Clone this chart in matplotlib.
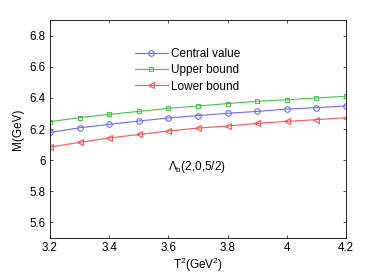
import matplotlib
matplotlib.use('Agg')
from matplotlib import pyplot as plt

# Borel parameter T^2 (GeV^2)
t2 = [3.2, 3.3, 3.4, 3.5, 3.6, 3.7, 3.8, 3.9, 4.0, 4.1, 4.2]

# Mass values M (GeV)
central = [6.178, 6.208, 6.230, 6.251, 6.271, 6.286, 6.301, 6.313, 6.328, 6.337, 6.348]
upper = [6.247, 6.273, 6.294, 6.313, 6.333, 6.348, 6.363, 6.378, 6.388, 6.399, 6.410]
lower = [6.084, 6.114, 6.142, 6.165, 6.187, 6.206, 6.219, 6.236, 6.249, 6.260, 6.273]

xticks = [3.2, 3.4, 3.6, 3.8, 4.0, 4.2]
xticklabels = ['3.2', '3.4', '3.6', '3.8', '4', '4.2']
yticks = [5.6, 5.8, 6.0, 6.2, 6.4, 6.6, 6.8]
yticklabels = ['5.6', '5.8', '6', '6.2', '6.4', '6.6', '6.8']

plt.rcParams['font.family'] = ['Liberation Sans', 'DejaVu Sans']
plt.rcParams['mathtext.fontset'] = 'custom'
plt.rcParams['mathtext.rm'] = 'Liberation Sans'
plt.rcParams['mathtext.it'] = 'Liberation Sans'

fig = plt.figure(figsize=(3.82, 2.73), dpi=100)
ax = fig.add_axes([50 / 382, 1 - 238 / 273, 296 / 382, 218 / 273])

ax.plot(t2, central, color='#6b6bff', lw=0.8, marker='o', ms=4.0, mfc='none',
        mew=0.8, label='Central value')
ax.plot(t2, upper, color='#4cbf4c', lw=0.8, marker='s', ms=3.4, mfc='none',
        mew=0.8, label='Upper bound')
ax.plot(t2, lower, color='#ff5555', lw=0.8, marker='<', ms=4.0, mfc='none',
        mew=0.8, label='Lower bound')

ax.set_xlim(3.2, 4.2)
ax.set_ylim(5.5, 6.9)
ax.set_xticks(xticks)
ax.set_xticklabels(xticklabels)
ax.set_yticks(yticks)
ax.set_yticklabels(yticklabels)
ax.tick_params(direction='in', top=True, right=True, labelsize=8.3,
               length=2.5, width=0.5, pad=3)
for s in ax.spines.values():
    s.set_linewidth(0.6)

ax.set_xlabel('T$^2$(GeV$^2$)', fontsize=8.5, labelpad=1)
ax.set_ylabel('M(GeV)', fontsize=8.5, labelpad=4)

ax.legend(loc='upper left', bbox_to_anchor=(0.287, 0.87), frameon=False,
          fontsize=8.5, handlelength=2.8, handletextpad=0.25,
          labelspacing=0.35, borderaxespad=0, borderpad=0)

ax.text(3.6, 5.955, r'$\Lambda_{\rm b}$(2,0,5/2)', fontsize=8.5,
        ha='left', va='center')

plt.savefig('out.png', dpi=100)
